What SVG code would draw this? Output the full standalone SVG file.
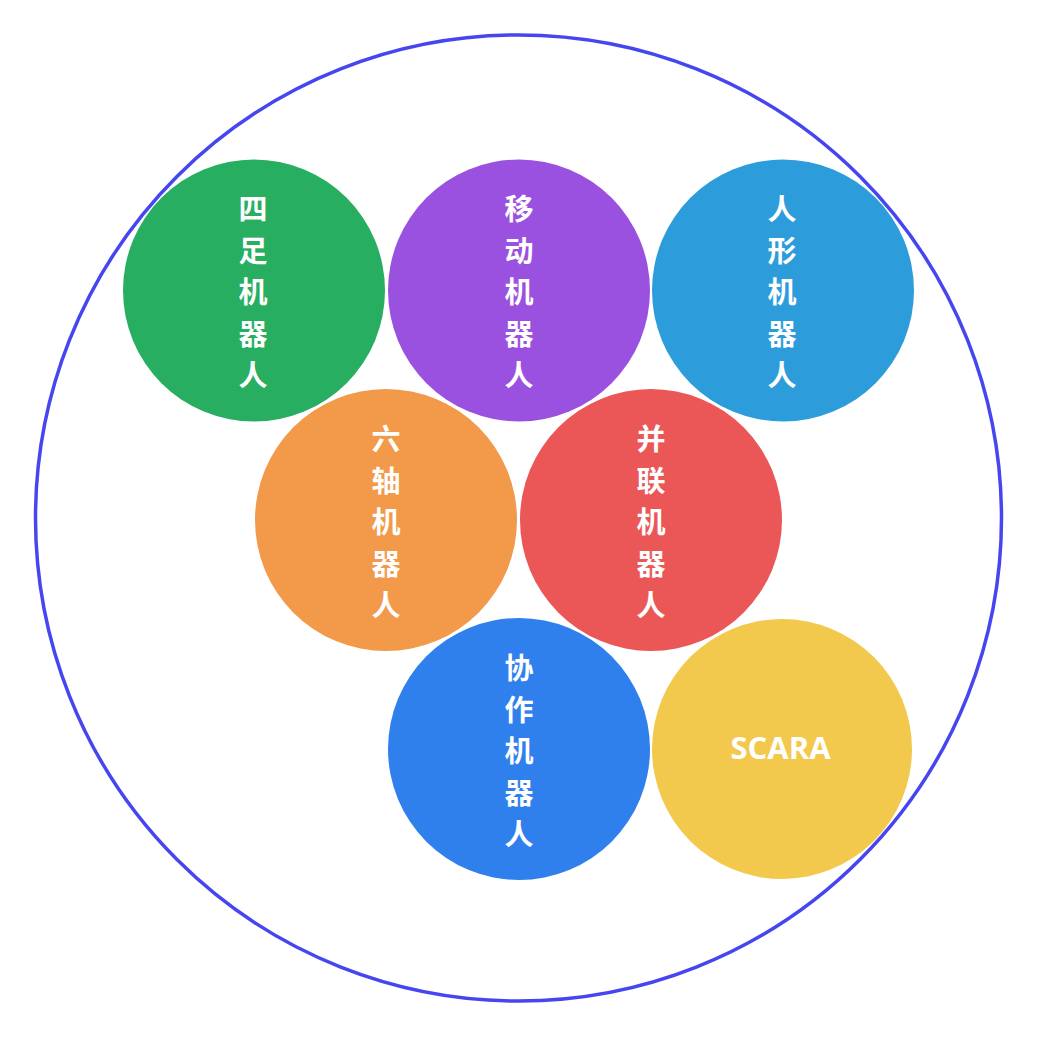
<svg xmlns="http://www.w3.org/2000/svg" width="1037" height="1037" viewBox="0 0 1037 1037">
<style>
.t{font-family:"Noto Sans CJK SC","Noto Sans",sans-serif;font-weight:bold;font-size:29px;fill:#fff;text-anchor:middle;dominant-baseline:central}
.s{font-family:"Open Sans","Noto Sans",sans-serif;font-weight:bold;font-size:31px;fill:#fff;text-anchor:middle;dominant-baseline:central}
</style>
<rect width="1037" height="1037" fill="#fff"/>
<circle id="outer" cx="518.5" cy="518" r="483" fill="none" stroke="#4646F0" stroke-width="3.5"/>
<g id="n1"><circle cx="254" cy="290.5" r="131" fill="#27AE60"/>
<text class="t" x="253" y="207">四</text><text class="t" x="253" y="248.5">足</text><text class="t" x="253" y="290">机</text><text class="t" x="253" y="331.5">器</text><text class="t" x="253" y="373">人</text></g>
<g id="n2"><circle cx="519" cy="290.5" r="131" fill="#9B51E0"/>
<text class="t" x="519" y="207">移</text><text class="t" x="519" y="248.5">动</text><text class="t" x="519" y="290">机</text><text class="t" x="519" y="331.5">器</text><text class="t" x="519" y="373">人</text></g>
<g id="n3"><circle cx="783" cy="290.5" r="131" fill="#2D9CDB"/>
<text class="t" x="782" y="207">人</text><text class="t" x="782" y="248.5">形</text><text class="t" x="782" y="290">机</text><text class="t" x="782" y="331.5">器</text><text class="t" x="782" y="373">人</text></g>
<g id="n4"><circle cx="386" cy="520" r="131" fill="#F2994A"/>
<text class="t" x="386" y="437">六</text><text class="t" x="386" y="478.5">轴</text><text class="t" x="386" y="520">机</text><text class="t" x="386" y="561.5">器</text><text class="t" x="386" y="603">人</text></g>
<g id="n5"><circle cx="651" cy="520" r="131" fill="#EB5757"/>
<text class="t" x="651" y="437">并</text><text class="t" x="651" y="478.5">联</text><text class="t" x="651" y="520">机</text><text class="t" x="651" y="561.5">器</text><text class="t" x="651" y="603">人</text></g>
<g id="n6"><circle cx="519" cy="749" r="131" fill="#2F80ED"/>
<text class="t" x="519" y="666">协</text><text class="t" x="519" y="707.5">作</text><text class="t" x="519" y="749">机</text><text class="t" x="519" y="790.5">器</text><text class="t" x="519" y="832">人</text></g>
<g id="n7"><circle cx="782" cy="749" r="130" fill="#F2C94C"/>
<text class="s" x="780.5" y="747">SCARA</text></g>
<g id="connectors"/>
</svg>
